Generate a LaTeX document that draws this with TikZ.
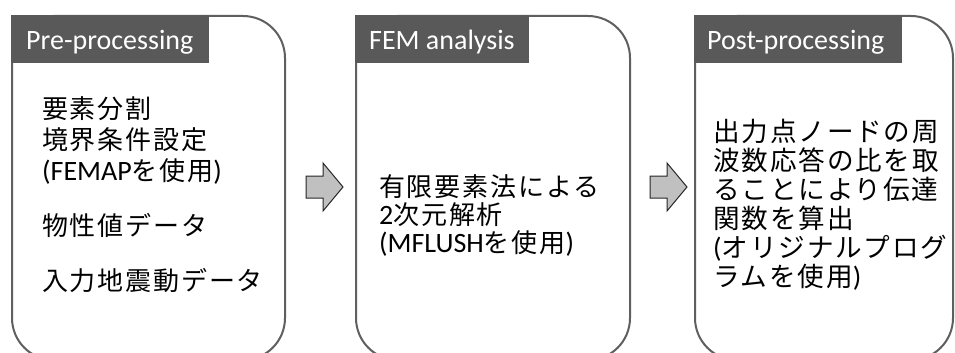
\documentclass[tikz,border=0pt]{standalone}
\usepackage{fontspec}
\setmainfont{Carlito}
\newfontfamily\jpfont[LetterSpace=7]{Noto Sans CJK JP}
\newcommand\jtxt[1]{{\jpfont #1}}
\definecolor{hdr}{HTML}{595959}
\definecolor{brd}{HTML}{5F5F5F}
\definecolor{arrfill}{HTML}{C0C0C0}
\tikzset{
  stagebox/.style={draw=brd, line width=2pt, rounded corners=42pt, fill=white},
  hdrbox/.style={fill=hdr, draw=none},
  hdrtext/.style={anchor=base west, inner sep=0pt, text=white, font=\fontsize{28}{32}\selectfont},
  bodytext/.style={anchor=base west, inner sep=0pt, text height=20pt, text depth=4pt, text=black, font=\fontsize{26}{30}\selectfont},
  bodytextb/.style={bodytext, font=\fontsize{26.6}{30}\selectfont}
}
\tikzset{flowarrow/.style={fill=arrfill, draw=black!85, line width=1pt, line join=miter}}
\begin{document}
\begin{tikzpicture}[x=1pt,y=-1pt]
\useasboundingbox (0,0) rectangle (955,353);
\clip (0,0) rectangle (955,353);
% boxes
\draw[stagebox] (12,16) rectangle (285,360);
\draw[stagebox] (356,16) rectangle (630,360);
\draw[stagebox] (695,16) rectangle (953,360);
% headers
\fill[hdrbox] (11,15) rectangle (209,63);
\fill[hdrbox] (355,15) rectangle (529,63);
\fill[hdrbox] (694,15) rectangle (902,63);
\node[hdrtext] (h1) at (26,50) {Pre-processing};
\node[hdrtext] (h2) at (369,50) {FEM analysis};
\node[hdrtext] (h3) at (707,50) {Post-processing};
% box 1 text
\node[bodytext] (a1) at (42,118) {\jtxt{要素分割}};
\node[bodytext] (a2) at (42,149) {\jtxt{境界条件設定}};
\node[bodytext] (a3) at (42,180) {\fontsize{28}{32}\selectfont(FEMAP\jtxt{\fontsize{26}{30}\selectfont を使用})};
\node[bodytext] (a4) at (42,235) {\jtxt{物性値データ}};
\node[bodytext] (a5) at (42,290) {\jtxt{入力地震動データ}};
% box 2 text
\node[bodytext] (b1) at (379,196) {\jtxt{有限要素法による}};
\node[bodytext] (b2) at (379,224) {\fontsize{28}{32}\selectfont 2\jtxt{\fontsize{26}{30}\selectfont 次元解析}};
\node[bodytext] (b3) at (379,252) {\fontsize{28}{32}\selectfont(MFLUSH\jtxt{\fontsize{26}{30}\selectfont を使用})};
% box 3 text
\node[bodytextb] (c1) at (713,141) {\jtxt{出力点ノードの周}};
\node[bodytextb] (c2) at (713,170) {\jtxt{波数応答の比を取}};
\node[bodytextb] (c3) at (713,199) {\jtxt{ることにより伝達}};
\node[bodytextb] (c4) at (713,228) {\jtxt{関数を算出}};
\node[bodytextb] (c5) at (713,257) {\fontsize{28}{32}\selectfont(\jtxt{\fontsize{26.6}{30}\selectfont オリジナルプログ}};
\node[bodytextb] (c6) at (713,286) {\jtxt{ラムを使用}\fontsize{28}{32}\selectfont)};
% arrows
\draw[flowarrow] (306,176) -- (323,176) -- (323,163) -- (343,187) -- (323,211) -- (323,198) -- (306,198) -- cycle;
\draw[flowarrow] (650,176) -- (667,176) -- (667,163) -- (687,187) -- (667,211) -- (667,198) -- (650,198) -- cycle;
\end{tikzpicture}
\end{document}
